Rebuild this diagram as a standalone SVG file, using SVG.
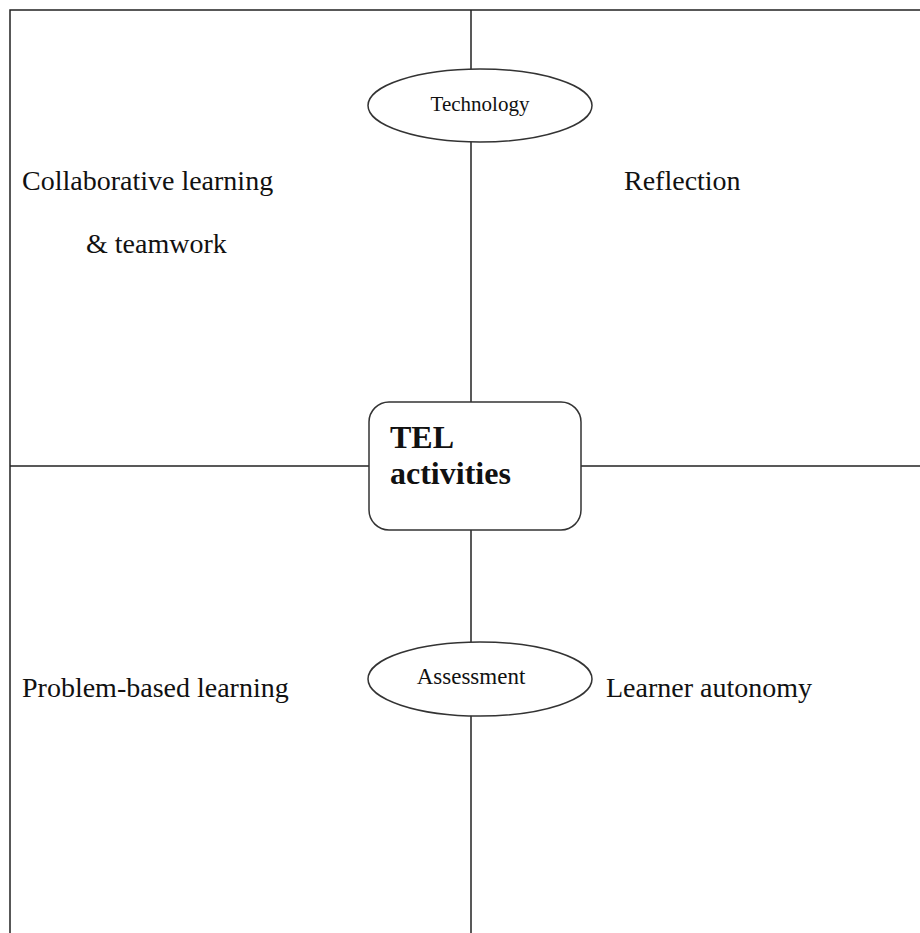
<svg xmlns="http://www.w3.org/2000/svg" width="920" height="933" viewBox="0 0 920 933">
<style>
.ln{stroke:#222;stroke-width:1.5;fill:none}
.nd{stroke:#333;stroke-width:1.5;fill:#fff}
.t{font-family:"Liberation Serif","Times New Roman",serif;fill:#111}
.q{font-size:28px}
.e{font-size:21px}
.a{font-size:23px}
.b{font-size:32px;font-weight:bold}
</style>
<rect width="920" height="933" fill="#fff"/>
<g id="connectors">
<path class="ln" d="M10,933 V10 H920"/>
<line class="ln" x1="471" y1="10" x2="471" y2="933"/>
<line class="ln" x1="10" y1="466" x2="920" y2="466"/>
</g>
<g id="technology">
<ellipse class="nd" cx="480" cy="105.5" rx="112" ry="36.5"/>
<text class="t e" x="480" y="111" text-anchor="middle">Technology</text>
</g>
<g id="tel">
<rect class="nd" x="369" y="402" width="212" height="128" rx="20"/>
<text class="t b" x="390" y="448">TEL</text>
<text class="t b" x="390" y="484">activities</text>
</g>
<g id="assessment">
<ellipse class="nd" cx="480" cy="679" rx="112" ry="37"/>
<text class="t a" x="471" y="684" text-anchor="middle">Assessment</text>
</g>
<g id="collab">
<text class="t q" x="22" y="190">Collaborative learning</text>
<text class="t q" x="86" y="253">&amp; teamwork</text>
</g>
<g id="reflection"><text class="t q" x="624" y="190">Reflection</text></g>
<g id="pbl"><text class="t q" x="22" y="697">Problem-based learning</text></g>
<g id="autonomy"><text class="t q" x="606" y="697">Learner autonomy</text></g>
</svg>
